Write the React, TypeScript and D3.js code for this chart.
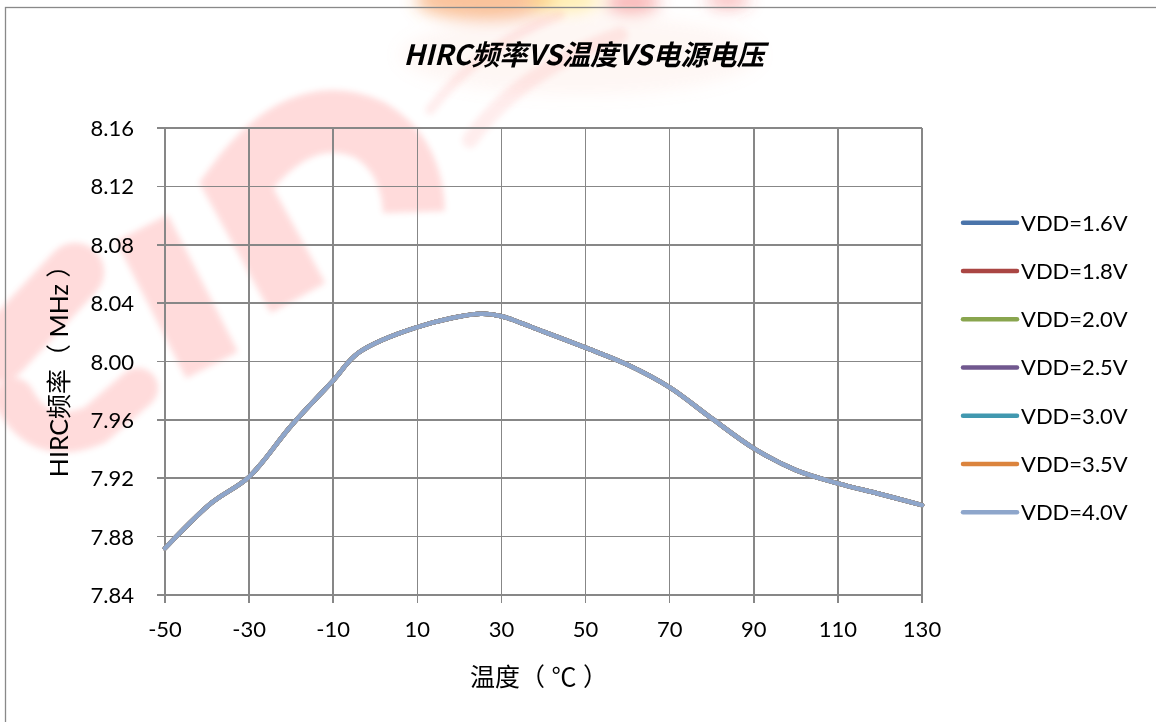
import React from "react";
import * as d3 from "d3";

const W = 1156;
const H = 722;

const TITLE = "HIRC频率VS温度VS电源电压";
const X_TITLE = "温度（ ℃ ）";
const Y_TITLE = "HIRC频率（ MHz ）";

const xTicks = [-50, -30, -10, 10, 30, 50, 70, 90, 110, 130];
const yTicks = [7.84, 7.88, 7.92, 7.96, 8.0, 8.04, 8.08, 8.12, 8.16];

const temps = [-50, -39, -30, -20, -10, -4, 10, 25, 30, 40, 50, 60, 70, 80, 90, 100, 110, 120, 130];
const freq16 = [7.872, 7.903, 7.921, 7.956, 7.987, 8.006, 8.0236, 8.0327, 8.031, 8.0205, 8.0095, 7.9978, 7.9823, 7.961, 7.9405, 7.9256, 7.9165, 7.9092, 7.9016];
const freq18 = [7.872, 7.903, 7.921, 7.956, 7.987, 8.006, 8.0236, 8.0327, 8.031, 8.0205, 8.0095, 7.9978, 7.9823, 7.961, 7.9405, 7.9256, 7.9165, 7.9092, 7.9016];
const freq20 = [7.872, 7.903, 7.921, 7.956, 7.987, 8.006, 8.0236, 8.0327, 8.031, 8.0205, 8.0095, 7.9978, 7.9823, 7.961, 7.9405, 7.9256, 7.9165, 7.9092, 7.9016];
const freq25 = [7.872, 7.903, 7.921, 7.956, 7.987, 8.006, 8.0236, 8.0327, 8.031, 8.0205, 8.0095, 7.9978, 7.9823, 7.961, 7.9405, 7.9256, 7.9165, 7.9092, 7.9016];
const freq30 = [7.872, 7.903, 7.921, 7.956, 7.987, 8.006, 8.0236, 8.0327, 8.031, 8.0205, 8.0095, 7.9978, 7.9823, 7.961, 7.9405, 7.9256, 7.9165, 7.9092, 7.9016];
const freq35 = [7.872, 7.903, 7.921, 7.956, 7.987, 8.006, 8.0236, 8.0327, 8.031, 8.0205, 8.0095, 7.9978, 7.9823, 7.961, 7.9405, 7.9256, 7.9165, 7.9092, 7.9016];
const freq40 = [7.872, 7.903, 7.921, 7.956, 7.987, 8.006, 8.0236, 8.0327, 8.031, 8.0205, 8.0095, 7.9978, 7.9823, 7.961, 7.9405, 7.9256, 7.9165, 7.9092, 7.9016];

const seriesNames = ["VDD=1.6V", "VDD=1.8V", "VDD=2.0V", "VDD=2.5V", "VDD=3.0V", "VDD=3.5V", "VDD=4.0V"];
const seriesValues = [freq16, freq18, freq20, freq25, freq30, freq35, freq40];
const seriesColors = ["#4A74AA", "#AA4643", "#89A54E", "#71588F", "#4198AF", "#DB843D", "#8EA6CB"];

const LATIN = "Lato, 'Noto Sans CJK SC', sans-serif";
const GRID = "#878787";

export default function App() {
  const left = 165, right = 922, top = 128, bottom = 595;
  const x = d3.scaleLinear().domain([-50, 130]).range([left, right]);
  const y = d3.scaleLinear().domain([7.84, 8.16]).range([bottom, top]);
  const line = d3
    .line<[number, number]>()
    .x((d) => x(d[0]))
    .y((d) => y(d[1]))
    .curve(d3.curveCatmullRom.alpha(0.5));

  const legendX0 = 963, legendX1 = 1017, legendY0 = 222.7, legendStep = 48.25;

  return (
    <svg
      width={W}
      height={H}
      viewBox={`0 0 ${W} ${H}`}
      style={{ position: "absolute", left: 0, top: 0, background: "#fff" }}
    >
      <defs>
        <filter id="wmblur" x="-20%" y="-20%" width="140%" height="140%">
          <feGaussianBlur stdDeviation="3" />
        </filter>
        <filter id="wmblur2" x="-50%" y="-50%" width="200%" height="200%">
          <feGaussianBlur stdDeviation="8" />
        </filter>
      </defs>
      <rect x={0} y={0} width={W} height={H} fill="#fff" />

      {/* watermark */}
      <g filter="url(#wmblur2)">
        <ellipse cx={485} cy={0} rx={70} ry={20} fill="#f5883a" opacity={0.5} />
        <ellipse cx={565} cy={0} rx={36} ry={12} fill="#ffe070" opacity={0.55} />
        <ellipse cx={632} cy={2} rx={28} ry={12} fill="#f04848" opacity={0.4} />
        <ellipse cx={728} cy={0} rx={22} ry={9} fill="#f04848" opacity={0.35} />
        <ellipse cx={580} cy={55} rx={180} ry={40} fill="#f8b090" opacity={0.1} />
      </g>
      <g filter="url(#wmblur)" opacity={0.17} fill="none" stroke="#ff2a2a">
        <path d="M 0 352 L 75 272" strokeWidth={58} strokeLinecap="round" />
        <path d="M 14 398 Q 40 448 95 425 L 138 388" strokeWidth={40} strokeLinecap="round" />
        <path d="M 142 228 L 212 365" strokeWidth={58} />
        <path d="M 298 298 L 236 185 Q 300 98 370 130 Q 412 155 414 212" strokeWidth={62} />
        <path d="M 470 140 Q 520 70 620 35" strokeWidth={16} strokeLinecap="round" opacity={0.5} />
        <path d="M 430 110 Q 480 45 560 15" strokeWidth={10} strokeLinecap="round" opacity={0.5} />
      </g>

      {/* outer border */}
      <rect x={5.5} y={7.5} width={W + 10} height={H + 10} fill="none" stroke="#898989" strokeWidth={1.3} />

      {/* title */}
      <text
        x={584}
        y={65}
        textAnchor="middle"
        fontFamily="'Noto Sans CJK SC', sans-serif"
        fontWeight={700}
        fontStyle="italic"
        fontSize={28}
        fill="#000"
      >
        {TITLE}
      </text>

      {/* grid */}
      <g stroke={GRID} strokeWidth={1.6} shapeRendering="crispEdges">
        {yTicks.map((t) => (
          <line key={"gy" + t} x1={left - 8} x2={right} y1={y(t)} y2={y(t)} />
        ))}
        {xTicks.map((t) => (
          <line key={"gx" + t} x1={x(t)} x2={x(t)} y1={top} y2={bottom + 8} />
        ))}
      </g>

      {/* tick labels */}
      <g fontFamily={LATIN} fontSize={22} fill="#000">
        {yTicks.map((t) => (
          <text key={"ty" + t} x={134} y={y(t) + 8} textAnchor="end">
            {t.toFixed(2)}
          </text>
        ))}
        {xTicks.map((t) => (
          <text key={"tx" + t} x={x(t)} y={637} textAnchor="middle">
            {String(t)}
          </text>
        ))}
      </g>

      {/* axis titles */}
      <text x={539} y={686} textAnchor="middle" fontFamily={LATIN} fontSize={25} fill="#000">
        {X_TITLE}
      </text>
      <text
        transform={`translate(68,365) rotate(-90)`}
        textAnchor="middle"
        fontFamily={LATIN}
        fontSize={25}
        fill="#000"
      >
        {Y_TITLE}
      </text>

      {/* series */}
      <g fill="none" strokeWidth={4.5} strokeLinejoin="round" strokeLinecap="round">
        {seriesValues.map((vals, i) => (
          <path
            key={seriesNames[i]}
            d={line(temps.map((t, j) => [t, vals[j]] as [number, number])) || ""}
            stroke={seriesColors[i]}
          />
        ))}
      </g>

      {/* legend */}
      <g>
        {seriesNames.map((name, i) => {
          const ly = legendY0 + i * legendStep;
          return (
            <g key={"lg" + name}>
              <line
                x1={legendX0}
                x2={legendX1}
                y1={ly}
                y2={ly}
                stroke={seriesColors[i]}
                strokeWidth={4.5}
                strokeLinecap="round"
              />
              <text x={1021} y={ly + 8} fontFamily={LATIN} fontSize={22} fill="#000">
                {name}
              </text>
            </g>
          );
        })}
      </g>
    </svg>
  );
}
